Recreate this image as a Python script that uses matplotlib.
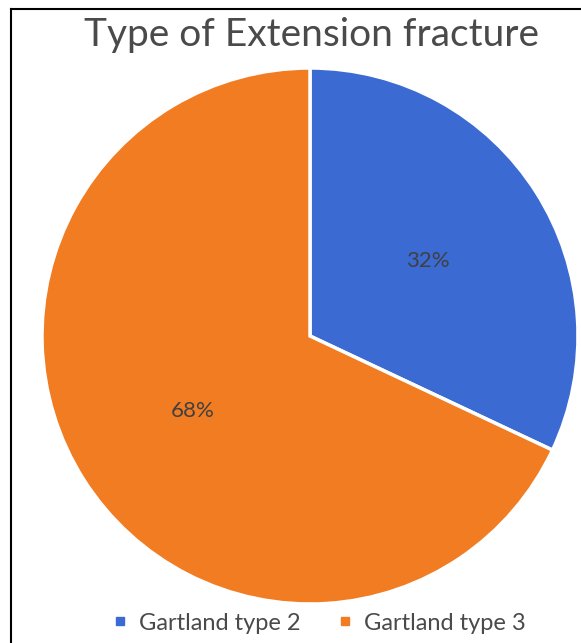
import matplotlib.pyplot as plt
from matplotlib.lines import Line2D

# Gartland classification of extension fractures
labels = ["Gartland type 2", "Gartland type 3"]
shares = [32, 68]
colors = ["#3A6AD2", "#F27C22"]

W, H = 581, 643
fig = plt.figure(figsize=(W / 100, H / 100), dpi=100)
plt.rcParams['font.family'] = ['Lato', 'DejaVu Sans']

# pie occupies a square box, radius ~268 px
ax = fig.add_axes([42 / W, 39 / H, 536 / W, 536 / H])
wedges, texts, autotexts = ax.pie(
    shares, colors=colors, startangle=90, counterclock=False,
    autopct='%1.0f%%', pctdistance=0.52,
    wedgeprops=dict(edgecolor='white', linewidth=2.5),
    textprops=dict(color='#404040', fontsize=16))
ax.set_xlim(-1, 1)
ax.set_ylim(-1, 1)
ax.set_aspect('equal')

fig.text(312 / W, 1 - 35 / H, "Type of Extension fracture",
         ha='center', va='center', fontsize=28, color='#4a4a4a')

handles = [Line2D([], [], marker='s', linestyle='none', markersize=6,
                  markerfacecolor=c, markeredgecolor=c) for c in colors]
fig.legend(handles, labels, loc='center', bbox_to_anchor=(316 / W, 1 - 623 / H),
           ncol=2, frameon=False, fontsize=17, handletextpad=0.2,
           columnspacing=1.3, handlelength=1.2, labelcolor='#4a4a4a')

# thin frame on the left and top
fig.add_artist(Line2D([10.5 / W, 10.5 / W], [0, 1 - 8.5 / H], color='black', lw=1.5,
                      transform=fig.transFigure))
fig.add_artist(Line2D([10.5 / W, 1], [1 - 8.5 / H, 1 - 8.5 / H], color='black', lw=1.5,
                      transform=fig.transFigure))

fig.savefig("out.png", dpi=100)
